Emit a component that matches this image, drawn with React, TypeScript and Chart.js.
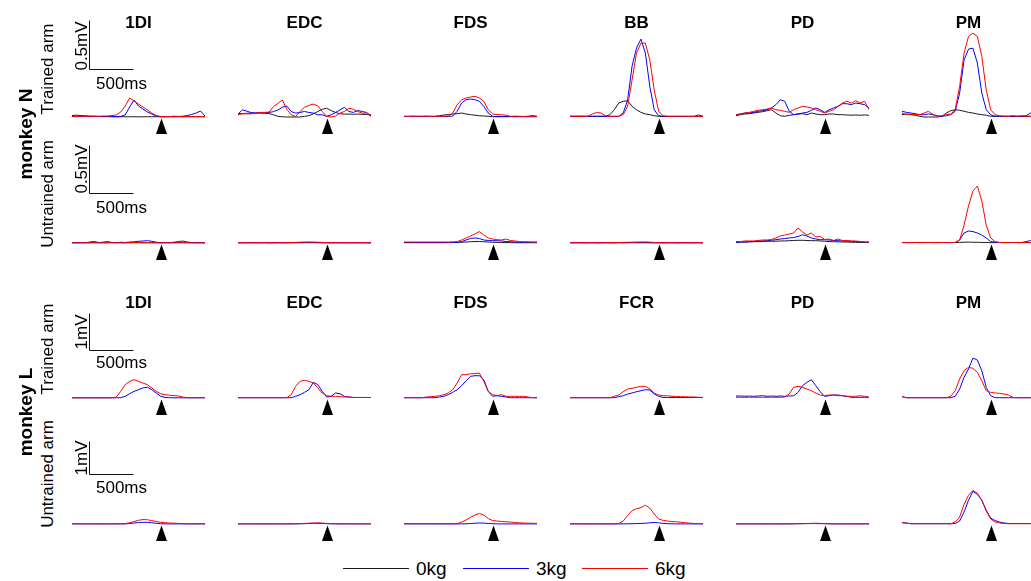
import React, { useEffect, useRef } from 'react';
import { Chart, registerables } from 'chart.js';

Chart.register(...registerables);

// ---------------- DATA ----------------
// time samples (ms relative to the marked event, triangle at 0 ms)
const TIMES_MS = [-1000, -950, -900, -850, -800, -750, -700, -650, -600, -550, -500, -450, -400, -350, -300, -250, -200, -150, -100, -50, 0, 50, 100, 150, 200, 250, 300, 350, 400, 450, 500];

const MUSCLES_N = ['1DI', 'EDC', 'FDS', 'BB', 'PD', 'PM'];
const MUSCLES_L = ['1DI', 'EDC', 'FDS', 'FCR', 'PD', 'PM'];
const LOADS = ['0kg', '3kg', '6kg'];
const LOAD_COLORS = ['#1a1a1a', '#0000ff', '#ff0000'];
const ONSET_MS = 0;
const SCALE_BAR_MS = 500;
const SCALE_BAR_UV = [500, 500, 1000, 1000];
const ROW_MONKEYS = ['monkey N', 'monkey L'];
const ROW_ARMS = ['Trained arm', 'Untrained arm', 'Trained arm', 'Untrained arm'];

// EMG amplitude, µV, monkey N trained arm
const N_TR_0KG = [
  [15, 19, 15, 12, 10, 8, 6, 5, 3, 2, 2, 3, 2, 2, 3, 2, 2, 3, 2, 3, 2, 2, 3, 2, 3, 2, 3, 3, 2, 3, 2],
  [33, 35, 38, 40, 40, 40, 38, 35, 23, 7, 2, 0, 0, 0, 0, 7, 13, 33, 57, 80, 90, 67, 47, 33, 30, 30, 28, 30, 28, 25, 23],
  [7, 7, 7, 7, 7, 7, 7, 7, 13, 21, 24, 31, 34, 41, 31, 24, 19, 13, 10, 7, 3, 3, 3, 3, 3, 3, 3, 3, 3, 3, 3],
  [7, 7, 7, 7, 7, 7, 7, 7, 7, 24, 75, 144, 162, 168, 110, 75, 48, 31, 24, 13, 7, 5, 5, 5, 5, 5, 5, 5, 5, 5, 5],
  [13, 24, 31, 34, 41, 48, 55, 65, 75, 41, 13, 7, 18, 24, 31, 34, 24, 41, 31, 24, 24, 31, 31, 24, 24, 21, 18, 21, 18, 21, 18],
  [24, 31, 24, 18, 7, 0, 0, 0, 0, 7, 41, 65, 75, 69, 59, 48, 41, 31, 24, 18, 7, 7, 7, 7, 7, 7, 7, 7, 7, 7, 7],
];
const N_TR_3KG = [
  [5, 3, 7, 5, 4, 6, 5, 4, 6, 5, 4, 6, 21, 103, 175, 113, 82, 52, 31, 10, 3, 5, 4, 8, 6, 8, 15, 26, 41, 62, 10],
  [30, 73, 60, 45, 40, 47, 47, 47, 55, 73, 100, 113, 57, 40, 47, 57, 47, 40, 23, 23, 7, 23, 47, 73, 100, 57, 47, 67, 57, 47, 13],
  [5, 5, 6, 5, 5, 6, 5, 5, 6, 5, 5, 10, 59, 144, 178, 185, 178, 162, 110, 41, 7, 5, 6, 5, 5, 6, 5, 5, 6, 15, 5],
  [7, 7, 7, 7, 7, 7, 7, 7, 7, 7, 7, 7, 41, 175, 525, 711, 803, 659, 316, 75, 13, 7, 7, 7, 7, 7, 7, 7, 7, 21, 7],
  [24, 31, 41, 41, 48, 59, 65, 75, 93, 127, 178, 162, 59, 24, 31, 41, 48, 69, 93, 75, 48, 75, 93, 110, 137, 137, 127, 144, 137, 127, 93],
  [59, 48, 41, 34, 24, 24, 31, 24, 13, 7, 13, 24, 59, 247, 587, 700, 710, 556, 247, 75, 24, 7, 7, 7, 7, 7, 7, 7, 13, 41, 41],
];
const N_TR_6KG = [
  [5, 7, 5, 8, 6, 8, 7, 10, 10, 15, 21, 52, 113, 196, 165, 134, 103, 72, 41, 15, 5, 3, 5, 4, 5, 4, 5, 3, 5, 4, 5],
  [23, 33, 33, 33, 40, 47, 47, 50, 107, 140, 175, 80, 23, 5, 57, 100, 120, 133, 115, 57, 7, 0, 10, 40, 57, 90, 80, 57, 40, 40, 7],
  [7, 6, 8, 7, 7, 8, 7, 6, 8, 7, 10, 41, 127, 178, 196, 206, 213, 196, 162, 75, 31, 24, 24, 18, 7, 8, 7, 6, 7, 8, 7],
  [7, 7, 7, 7, 7, 31, 46, 41, 13, 7, 7, 7, 24, 110, 381, 659, 762, 762, 587, 278, 59, 13, 7, 7, 7, 7, 7, 7, 7, 7, 7],
  [24, 31, 41, 48, 59, 69, 75, 82, 93, 75, 69, 59, 48, 75, 93, 110, 103, 93, 75, 59, 41, 59, 75, 110, 144, 162, 144, 168, 144, 162, 75],
  [41, 24, 31, 24, 24, 41, 59, 24, 7, 13, 24, 31, 75, 316, 659, 831, 865, 831, 625, 278, 75, 24, 13, 7, 7, 13, 7, 13, 7, 7, 7],
];

// monkey N untrained arm
const N_UN_0KG = [
  [3, 3, 3, 3, 3, 2, 3, 3, 2, 3, 3, 3, 2, 3, 3, 3, 2, 3, 3, 3, 2, 3, 3, 2, 3, 3, 3, 2, 3, 3, 3],
  [3, 2, 2, 3, 2, 2, 3, 2, 2, 3, 2, 2, 3, 2, 3, 3, 3, 3, 2, 2, 3, 2, 2, 3, 2, 2, 3, 2, 2, 3, 2],
  [3, 3, 3, 3, 3, 3, 3, 3, 3, 3, 4, 5, 6, 8, 10, 13, 15, 15, 13, 10, 8, 6, 5, 4, 4, 3, 3, 3, 3, 3, 3],
  [2, 2, 3, 2, 2, 3, 2, 2, 3, 2, 2, 3, 2, 2, 3, 2, 2, 3, 2, 2, 3, 2, 2, 3, 2, 2, 3, 2, 2, 3, 2],
  [7, 10, 10, 12, 13, 15, 15, 18, 18, 18, 21, 21, 24, 26, 28, 28, 26, 24, 24, 21, 18, 15, 13, 12, 10, 10, 8, 7, 6, 5, 5],
  [4, 4, 4, 5, 4, 4, 5, 4, 4, 5, 4, 5, 5, 6, 8, 9, 8, 7, 6, 5, 4, 4, 5, 4, 4, 5, 4, 4, 5, 4, 4],
];
const N_UN_3KG = [
  [3, 3, 3, 3, 10, 15, 5, 8, 15, 5, 3, 8, 5, 10, 12, 18, 20, 24, 18, 8, 3, 5, 3, 8, 15, 20, 10, 5, 3, 3, 3],
  [3, 4, 3, 3, 4, 3, 4, 3, 3, 4, 3, 4, 4, 5, 6, 6, 7, 6, 5, 4, 3, 4, 3, 3, 4, 3, 3, 4, 3, 3, 3],
  [5, 5, 5, 5, 5, 5, 5, 5, 5, 5, 5, 5, 5, 15, 31, 46, 52, 46, 31, 26, 24, 24, 21, 15, 13, 10, 7, 7, 7, 7, 7],
  [3, 3, 4, 3, 3, 4, 3, 3, 4, 3, 3, 4, 4, 5, 6, 6, 5, 4, 4, 3, 3, 3, 4, 3, 3, 4, 3, 3, 4, 3, 3],
  [7, 10, 10, 13, 15, 19, 21, 24, 28, 34, 41, 46, 52, 57, 67, 85, 72, 52, 41, 34, 34, 31, 26, 24, 21, 19, 18, 15, 12, 10, 7],
  [5, 5, 5, 5, 5, 5, 5, 5, 5, 5, 5, 5, 5, 31, 103, 124, 118, 103, 82, 52, 15, 8, 5, 5, 5, 5, 5, 5, 15, 24, 24],
];
const N_UN_6KG = [
  [2, 2, 3, 2, 2, 3, 2, 2, 3, 4, 3, 2, 3, 4, 5, 4, 3, 3, 2, 2, 2, 2, 3, 2, 2, 3, 2, 2, 3, 2, 2],
  [3, 3, 4, 3, 3, 4, 3, 3, 4, 3, 4, 4, 5, 6, 8, 9, 10, 9, 8, 6, 4, 3, 4, 3, 3, 4, 3, 3, 4, 3, 3],
  [10, 10, 10, 10, 10, 10, 10, 10, 10, 10, 10, 12, 15, 31, 52, 72, 93, 118, 82, 52, 41, 34, 31, 41, 26, 21, 15, 13, 12, 10, 10],
  [3, 4, 3, 3, 4, 3, 3, 4, 3, 4, 4, 5, 6, 7, 8, 9, 10, 11, 9, 6, 4, 3, 3, 4, 3, 3, 4, 3, 3, 4, 3],
  [15, 15, 21, 21, 21, 26, 31, 31, 36, 52, 72, 82, 93, 103, 155, 113, 82, 103, 62, 67, 36, 41, 26, 41, 26, 26, 21, 21, 15, 10, 10],
  [5, 5, 5, 5, 5, 5, 5, 5, 5, 5, 5, 5, 5, 31, 185, 381, 536, 587, 433, 185, 52, 15, 5, 5, 5, 5, 5, 5, 5, 5, 5],
];

// monkey L trained arm
const L_TR_3KG = [
  [5, 5, 5, 5, 5, 5, 5, 5, 5, 5, 5, 8, 46, 116, 180, 225, 270, 290, 225, 135, 46, 15, 8, 5, 5, 5, 5, 5, 5, 5, 5],
  [8, 8, 8, 8, 8, 8, 8, 8, 8, 8, 8, 8, 8, 46, 90, 154, 225, 425, 360, 180, 27, 46, 135, 116, 46, 27, 14, 14, 14, 14, 14],
  [8, 8, 8, 8, 8, 8, 8, 8, 27, 46, 90, 154, 225, 332, 467, 586, 602, 602, 494, 180, 46, 62, 46, 27, 8, 8, 8, 8, 8, 8, 8],
  [8, 8, 8, 8, 8, 8, 8, 8, 8, 8, 8, 35, 62, 108, 135, 170, 197, 224, 216, 108, 46, 14, 14, 14, 14, 14, 14, 14, 14, 14, 14],
  [54, 54, 46, 54, 46, 54, 62, 46, 54, 46, 54, 46, 54, 62, 154, 332, 424, 494, 332, 170, 46, 62, 81, 81, 62, 46, 19, 19, 19, 19, 19],
  [40, 8, 8, 8, 8, 8, 8, 8, 8, 8, 8, 8, 46, 243, 559, 783, 1080, 1026, 737, 289, 62, 8, 8, 8, 8, 8, 8, 8, 8, 8, 8],
];
const L_TR_6KG = [
  [5, 5, 5, 5, 5, 5, 5, 5, 5, 5, 27, 180, 360, 450, 495, 450, 405, 360, 270, 180, 116, 90, 75, 65, 54, 27, 8, 8, 8, 8, 8],
  [8, 8, 8, 8, 8, 8, 8, 8, 8, 8, 8, 8, 90, 315, 450, 478, 450, 405, 270, 135, 62, 46, 46, 35, 27, 27, 14, 14, 14, 14, 14],
  [8, 8, 8, 8, 8, 27, 35, 46, 62, 90, 135, 225, 405, 630, 630, 656, 656, 675, 450, 180, 90, 62, 90, 46, 46, 46, 46, 46, 27, 8, 8],
  [8, 8, 8, 8, 8, 8, 8, 8, 8, 8, 46, 81, 170, 243, 262, 289, 316, 316, 243, 135, 81, 62, 62, 46, 46, 35, 35, 27, 27, 19, 14],
  [19, 19, 19, 19, 19, 19, 19, 19, 19, 19, 19, 27, 108, 289, 316, 289, 243, 197, 135, 81, 62, 81, 81, 62, 62, 46, 46, 46, 62, 46, 19],
  [35, 8, 8, 8, 8, 8, 8, 8, 8, 8, 8, 46, 197, 513, 737, 829, 802, 694, 467, 197, 154, 135, 127, 108, 81, 19, 8, 8, 8, 8, 8],
];

// monkey L untrained arm
const L_UN_3KG = [
  [3, 3, 3, 3, 3, 3, 3, 3, 3, 3, 3, 3, 3, 15, 30, 45, 51, 51, 39, 21, 9, 3, 3, 3, 3, 3, 3, 3, 3, 3, 3],
  [3, 3, 3, 3, 3, 3, 3, 3, 3, 3, 3, 3, 3, 3, 6, 9, 15, 21, 24, 18, 9, 6, 3, 3, 3, 3, 3, 3, 3, 3, 3],
  [3, 3, 3, 3, 3, 3, 3, 3, 3, 3, 3, 3, 3, 3, 6, 15, 24, 30, 27, 15, 9, 3, 3, 3, 3, 3, 3, 3, 3, 3, 3],
  [3, 3, 3, 3, 3, 3, 3, 3, 3, 3, 3, 3, 3, 6, 9, 12, 18, 24, 36, 45, 36, 18, 9, 6, 3, 3, 3, 3, 3, 3, 3],
  [3, 3, 3, 3, 3, 3, 3, 3, 3, 3, 3, 3, 3, 6, 9, 12, 15, 18, 21, 18, 12, 6, 3, 3, 3, 3, 3, 3, 3, 3, 3],
  [45, 30, 9, 9, 9, 9, 9, 9, 9, 9, 9, 9, 15, 90, 360, 720, 990, 900, 720, 420, 180, 105, 60, 30, 15, 15, 15, 15, 15, 15, 15],
];
const L_UN_6KG = [
  [6, 6, 6, 6, 6, 6, 6, 6, 6, 6, 6, 6, 9, 39, 75, 111, 135, 129, 105, 75, 51, 39, 30, 24, 18, 12, 6, 6, 6, 6, 6],
  [6, 6, 6, 6, 6, 6, 6, 6, 6, 6, 6, 6, 6, 9, 12, 18, 24, 30, 33, 27, 18, 12, 9, 6, 6, 6, 6, 6, 6, 6, 6],
  [9, 9, 9, 9, 9, 9, 9, 9, 9, 9, 9, 9, 9, 60, 120, 201, 270, 321, 270, 165, 105, 90, 75, 69, 60, 45, 36, 30, 24, 21, 18],
  [6, 6, 6, 6, 6, 6, 6, 6, 6, 6, 6, 15, 90, 255, 405, 465, 495, 570, 480, 300, 150, 111, 90, 75, 66, 54, 36, 24, 15, 12, 9],
  [6, 6, 6, 6, 6, 6, 6, 6, 6, 6, 6, 6, 6, 6, 9, 9, 12, 12, 12, 9, 9, 6, 6, 6, 6, 6, 6, 6, 6, 6, 6],
  [39, 24, 9, 9, 9, 9, 9, 9, 9, 9, 9, 6, 60, 210, 600, 870, 1020, 930, 720, 390, 150, 60, 30, 15, 9, 9, 9, 9, 9, 9, 9],
];

// ---------------- LAYOUT ----------------
const FONT = '"Liberation Sans", Arial, Helvetica, sans-serif';
const PANEL_LEFT0 = 72;
const PANEL_STEP = 166;
const PANEL_W = 133;
const BELOW_PX = 20;
const BAR_T0 = -810;

const ROW_CFG = [
  { traces: { '0kg': N_TR_0KG, '3kg': N_TR_3KG, '6kg': N_TR_6KG }, muscles: MUSCLES_N, baseline: 117, topPx: 107, pxPerUV: 0.097, barV0: 495, titleY: 22, armY: 69, barLabelY: 45.5, msLabelY: 83 },
  { traces: { '0kg': N_UN_0KG, '3kg': N_UN_3KG, '6kg': N_UN_6KG }, muscles: MUSCLES_N, baseline: 243, topPx: 108, pxPerUV: 0.097, barV0: 515, titleY: null, armY: 194, barLabelY: 169, msLabelY: 207 },
  { traces: { '3kg': L_TR_3KG, '6kg': L_TR_6KG }, muscles: MUSCLES_L, baseline: 398, topPx: 98, pxPerUV: 0.037, barV0: 1305, titleY: 302, armY: 349, barLabelY: 331.5, msLabelY: 362 },
  { traces: { '3kg': L_UN_3KG, '6kg': L_UN_6KG }, muscles: MUSCLES_L, baseline: 524, topPx: 94, pxPerUV: 0.033, barV0: 1506, titleY: null, armY: 474, barLabelY: 458, msLabelY: 487 },
];

const marksPlugin = {
  id: 'marks',
  afterDatasetsDraw(chart: any, _args: any, opts: any) {
    const { ctx } = chart;
    const x = chart.scales.x;
    const y = chart.scales.y;
    ctx.save();
    const px = Math.round(x.getPixelForValue(opts.onset)) + 0.5;
    const py = y.getPixelForValue(0);
    ctx.fillStyle = '#000';
    ctx.beginPath();
    ctx.moveTo(px, py + 1.5);
    ctx.lineTo(px + 5.5, py + 17);
    ctx.lineTo(px - 5.5, py + 17);
    ctx.closePath();
    ctx.fill();
    if (opts.showBar) {
      const x0 = Math.round(x.getPixelForValue(opts.barT0)) + 0.5;
      const x1 = Math.round(x.getPixelForValue(opts.barT0 + opts.barDt)) + 0.5;
      const y0 = Math.round(y.getPixelForValue(opts.barV0)) + 0.5;
      const y1 = Math.round(y.getPixelForValue(opts.barV0 + opts.barDv)) + 0.5;
      ctx.strokeStyle = '#111';
      ctx.lineWidth = 1;
      ctx.beginPath();
      ctx.moveTo(x0, y1);
      ctx.lineTo(x0, y0);
      ctx.lineTo(x1, y0);
      ctx.stroke();
    }
    ctx.restore();
  },
};

function Panel({ r, c }: { r: number; c: number }) {
  const ref = useRef<HTMLCanvasElement>(null);
  const cfg = ROW_CFG[r];
  const left = PANEL_LEFT0 + PANEL_STEP * c;
  const top = cfg.baseline - cfg.topPx;
  const height = cfg.topPx + BELOW_PX;
  useEffect(() => {
    const order = ['6kg', '3kg', '0kg'];
    const datasets = order
      .filter((load) => (cfg.traces as any)[load])
      .map((load) => {
        const vals = (cfg.traces as any)[load][c] as number[];
        return {
          label: load,
          data: TIMES_MS.map((t, i) => ({ x: t, y: vals[i] })),
          borderColor: LOAD_COLORS[LOADS.indexOf(load)],
          backgroundColor: LOAD_COLORS[LOADS.indexOf(load)],
          borderWidth: 1,
          pointRadius: 0,
          tension: 0,
          fill: false,
        };
      });
    const chart = new Chart(ref.current as HTMLCanvasElement, {
      type: 'line',
      data: { datasets } as any,
      options: {
        animation: false,
        responsive: true,
        maintainAspectRatio: false,
        events: [],
        layout: { padding: 0 },
        scales: {
          x: { type: 'linear', min: TIMES_MS[0], max: TIMES_MS[TIMES_MS.length - 1], display: false },
          y: { type: 'linear', min: -BELOW_PX / cfg.pxPerUV, max: cfg.topPx / cfg.pxPerUV, display: false },
        },
        plugins: {
          legend: { display: false },
          tooltip: { enabled: false },
          title: { display: false },
          marks: {
            onset: ONSET_MS,
            showBar: c === 0,
            barT0: BAR_T0,
            barDt: SCALE_BAR_MS,
            barV0: cfg.barV0,
            barDv: SCALE_BAR_UV[r],
          },
        } as any,
      },
      plugins: [marksPlugin],
    });
    return () => chart.destroy();
  }, [r, c]);
  return (
    <div style={{ position: 'absolute', left, top, width: PANEL_W, height }}>
      <canvas ref={ref} />
    </div>
  );
}

function Txt({ x, y, text, size, bold, rotate }: { x: number; y: number; text: string; size: number; bold?: boolean; rotate?: boolean }) {
  return (
    <div
      style={{
        position: 'absolute',
        left: x,
        top: y,
        transform: `translate(-50%, -50%)${rotate ? ' rotate(-90deg)' : ''}`,
        fontFamily: FONT,
        fontSize: size,
        fontWeight: bold ? 'bold' : 'normal',
        lineHeight: 1,
        whiteSpace: 'nowrap',
        color: '#000',
      }}
    >
      {text}
    </div>
  );
}

export default function App() {
  const legendItems = [
    { load: LOADS[0], color: LOAD_COLORS[0], x: 343 },
    { load: LOADS[1], color: LOAD_COLORS[1], x: 463 },
    { load: LOADS[2], color: LOAD_COLORS[2], x: 582 },
  ];
  return (
    <div style={{ position: 'absolute', left: 0, top: 0, width: 1031, height: 581, overflow: 'hidden', background: '#fff' }}>
      {ROW_CFG.map((cfg, r) => (
        <React.Fragment key={r}>
          {cfg.muscles.map((m, c) => (
            <React.Fragment key={c}>
              <Panel r={r} c={c} />
              {cfg.titleY !== null && (
                <Txt x={PANEL_LEFT0 + PANEL_STEP * c + PANEL_W / 2} y={cfg.titleY as number} text={m} size={17} bold />
              )}
            </React.Fragment>
          ))}
          <Txt x={46.5} y={cfg.armY} text={ROW_ARMS[r]} size={17} rotate />
          <Txt x={81} y={cfg.barLabelY} text={`${SCALE_BAR_UV[r] / 1000}mV`} size={17} rotate />
          <Txt x={121.5} y={cfg.msLabelY} text={`${SCALE_BAR_MS}ms`} size={17} />
        </React.Fragment>
      ))}
      <Txt x={24.5} y={134} text={ROW_MONKEYS[0]} size={19} bold rotate />
      <Txt x={24.5} y={412} text={ROW_MONKEYS[1]} size={19} bold rotate />
      {legendItems.map((it) => (
        <React.Fragment key={it.load}>
          <div style={{ position: 'absolute', left: it.x, top: 568, width: 66, height: 0, borderTop: `1px solid ${it.color}` }} />
          <div
            style={{
              position: 'absolute',
              left: it.x + 73,
              top: 568,
              transform: 'translateY(-50%)',
              fontFamily: FONT,
              fontSize: 19,
              lineHeight: 1,
              whiteSpace: 'nowrap',
            }}
          >
            {it.load}
          </div>
        </React.Fragment>
      ))}
    </div>
  );
}
